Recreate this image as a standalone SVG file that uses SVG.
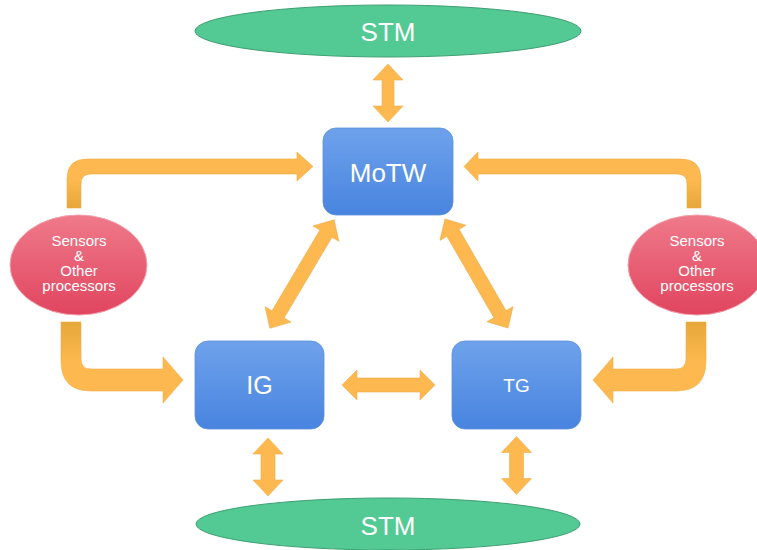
<svg xmlns="http://www.w3.org/2000/svg" width="757" height="550" viewBox="0 0 757 550">
<style>
.arr{fill:#FDB94F;stroke:#F2AC45;stroke-width:0.6}
.stm{fill:#53C993;stroke:#3E9E72;stroke-width:1}
.box{fill:url(#gBlue);stroke:#5C90DC;stroke-width:0.8}
.sens{fill:url(#gRed);stroke:#F3A0AC;stroke-width:1}
.t{font-family:"Liberation Sans",Arial,sans-serif;fill:#fff;text-anchor:middle}
</style>
<defs>
<linearGradient id="gBlue" x1="0" y1="0" x2="0" y2="1"><stop offset="0" stop-color="#6EA2EB"/><stop offset="1" stop-color="#4884DF"/></linearGradient>
<linearGradient id="gRed" x1="0" y1="0" x2="0" y2="1"><stop offset="0" stop-color="#EF7A8A"/><stop offset="1" stop-color="#E1455F"/></linearGradient>
<linearGradient id="gVup" x1="0" y1="1" x2="0" y2="0"><stop offset="0" stop-color="#E6A73A"/><stop offset="0.5" stop-color="#FDB94F"/><stop offset="1" stop-color="#FDB94F"/></linearGradient>
<linearGradient id="gVdn" x1="0" y1="0" x2="0" y2="1"><stop offset="0" stop-color="#E6A73A"/><stop offset="0.5" stop-color="#FDB94F"/><stop offset="1" stop-color="#FDB94F"/></linearGradient>
</defs>
<g id="connectors">
<path class="arr" transform="translate(388,93) rotate(90)" d="M-29,0 L-13,-15 L-13,-6 L13,-6 L13,-15 L29,0 L13,15 L13,6 L-13,6 L-13,15 Z"/>
<path class="arr" transform="translate(268,467) rotate(90)" d="M-29,0 L-13,-15 L-13,-7 L13,-7 L13,-15 L29,0 L13,15 L13,7 L-13,7 L-13,15 Z"/>
<path class="arr" transform="translate(516.5,465.5) rotate(90)" d="M-29,0 L-13,-15 L-13,-7 L13,-7 L13,-15 L29,0 L13,15 L13,7 L-13,7 L-13,15 Z"/>
<path class="arr" transform="translate(388.5,385)" d="M-46.5,0 L-31.5,-15 L-31.5,-7 L31.5,-7 L31.5,-15 L46.5,0 L31.5,15 L31.5,7 L-31.5,7 L-31.5,15 Z"/>
<path class="arr" transform="translate(302,274) rotate(120.65)" d="M-63,0 L-47,-15 L-47,-7 L47,-7 L47,-15 L63,0 L47,15 L47,7 L-47,7 L-47,15 Z"/>
<path class="arr" transform="translate(476.5,273.5) rotate(59.97)" d="M-63,0 L-47,-15 L-47,-7 L47,-7 L47,-15 L63,0 L47,15 L47,7 L-47,7 L-47,15 Z"/>
<path class="arr" style="fill:url(#gVup)" d="M67,208 L67,179 Q67,159 87,159 L297,159 L297,152 L313,166.5 L297,181 L297,174 L91,174 Q81,174 81,184 L81,208 Z"/>
<path class="arr" style="fill:url(#gVup)" d="M701,208 L701,179 Q701,159 681,159 L478,159 L478,152 L464,166.5 L478,181 L478,174 L677,174 Q687,174 687,184 L687,208 Z"/>
<path class="arr" style="fill:url(#gVdn)" d="M61,322 L61,361 Q61,391 91,391 L163,391 L163,403 L183,380 L163,357 L163,369 L91,369 Q81,369 81,359 L81,322 Z"/>
<path class="arr" style="fill:url(#gVdn)" d="M706,322 L706,361 Q706,391 676,391 L613,391 L613,403 L593,380 L613,357 L613,369 L676,369 Q686,369 686,359 L686,322 Z"/>
</g>
<g id="stm-top">
<ellipse class="stm" cx="388" cy="31" rx="193" ry="26"/>
<text class="t" x="388" y="40.5" font-size="26">STM</text>
</g>
<g id="stm-bottom">
<ellipse class="stm" cx="388" cy="524" rx="192" ry="26"/>
<text class="t" x="388" y="534.5" font-size="26">STM</text>
</g>
<g id="motw">
<rect class="box" x="323" y="128" width="130" height="87" rx="13"/>
<text class="t" x="388" y="181.5" font-size="26">MoTW</text>
</g>
<g id="ig">
<rect class="box" x="195" y="341" width="129" height="88" rx="13"/>
<text class="t" x="259.5" y="394" font-size="25">IG</text>
</g>
<g id="tg">
<rect class="box" x="452" y="341" width="129" height="88" rx="13"/>
<text class="t" x="516.5" y="392" font-size="19">TG</text>
</g>
<g id="sensors-left">
<ellipse class="sens" cx="78.5" cy="265" rx="68.5" ry="50"/>
<text class="t" x="79" font-size="15"><tspan x="79" y="245.5">Sensors</tspan><tspan x="79" y="261">&amp;</tspan><tspan x="79" y="276">Other</tspan><tspan x="79" y="290.5">processors</tspan></text>
</g>
<g id="sensors-right">
<ellipse class="sens" cx="697" cy="265" rx="69" ry="50"/>
<text class="t" x="697" font-size="15"><tspan x="697" y="245.5">Sensors</tspan><tspan x="697" y="261">&amp;</tspan><tspan x="697" y="276">Other</tspan><tspan x="697" y="290.5">processors</tspan></text>
</g>
</svg>
